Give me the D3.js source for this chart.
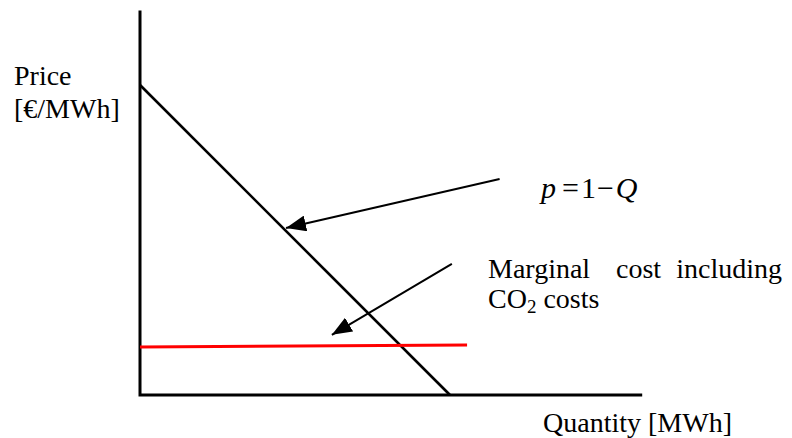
<!DOCTYPE html>
<html>
<head>
<meta charset="utf-8">
<script src="https://cdn.jsdelivr.net/npm/d3@7"></script>
<style>
  body { margin: 0; background: #fff; }
</style>
</head>
<body>
<script>
(function () {
  'use strict';

  // demand curve p = 1 - Q (quantity, price)
  const demand = [[0, 1], [1, 0]];
  // marginal cost incl. CO2 (almost flat, slightly rising)
  const marginalCost = [[0, 0.155], [1.055, 0.161]];
  // annotation arrows: [from, to]
  const arrowDemand = [[1.16, 0.697], [0.471, 0.539]];
  const arrowCost = [[1.006, 0.423], [0.619, 0.194]];
  // axis extents
  const qMax = 1.62;
  const pMax = 1.24;

  const width = 792;
  const height = 438;

  const svg = d3.select('body')
    .append('svg')
    .attr('width', width)
    .attr('height', height)
    .attr('font-family', 'Liberation Serif')
    .attr('font-size', 28);

  const xScale = d3.scaleLinear().domain([0, 1]).range([140, 450]);
  const yScale = d3.scaleLinear().domain([0, 1]).range([395, 85]);

  const line = d3.line()
    .x(d => xScale(d[0]))
    .y(d => yScale(d[1]));

  svg.append('defs').append('marker')
    .attr('id', 'head')
    .attr('markerUnits', 'userSpaceOnUse')
    .attr('viewBox', '0 0 20 16')
    .attr('refX', 20)
    .attr('refY', 8)
    .attr('markerWidth', 20)
    .attr('markerHeight', 16)
    .attr('orient', 'auto')
    .append('path')
    .attr('d', 'M0,0 L20,8 L0,16 Z')
    .attr('fill', '#000');

  // axes (plain lines, no ticks)
  svg.append('path')
    .attr('d', line([[0, pMax], [0, 0], [qMax, 0]]))
    .attr('fill', 'none')
    .attr('stroke', '#000')
    .attr('stroke-width', 3);

  svg.append('path')
    .attr('d', line(demand))
    .attr('fill', 'none')
    .attr('stroke', '#000')
    .attr('stroke-width', 2.6);

  svg.append('path')
    .attr('d', line(marginalCost))
    .attr('fill', 'none')
    .attr('stroke', '#ff0000')
    .attr('stroke-width', 3);

  svg.append('g').selectAll('path')
    .data([arrowDemand, arrowCost])
    .enter()
    .append('path')
    .attr('d', d => line(d))
    .attr('fill', 'none')
    .attr('stroke', '#000')
    .attr('stroke-width', 2)
    .attr('marker-end', 'url(#head)');

  // labels
  svg.append('text').attr('x', 14).attr('y', 85).text('Price');
  svg.append('text').attr('x', 14).attr('y', 118).text('[€/MWh]');
  svg.append('text').attr('x', 543).attr('y', 432).text('Quantity [MWh]');

  const eq = svg.append('text').attr('x', 541).attr('y', 198).attr('font-size', 30);
  eq.append('tspan').attr('font-style', 'italic').text('p');
  eq.append('tspan').attr('dx', 6).text('=');
  eq.append('tspan').attr('dx', 2).text('1');
  eq.append('tspan').attr('dx', 1).text('−');
  eq.append('tspan').attr('dx', 2).attr('font-style', 'italic').text('Q');

  svg.append('text').attr('x', 488).attr('y', 278).text('Marginal');
  svg.append('text').attr('x', 616).attr('y', 278).text('cost');
  svg.append('text').attr('x', 782).attr('y', 278).attr('text-anchor', 'end').text('including');

  const co2 = svg.append('text').attr('x', 488).attr('y', 308);
  co2.append('tspan').text('CO');
  co2.append('tspan').attr('font-size', 19).attr('dy', 5).text('2');
  co2.append('tspan').attr('dy', -5).text(' costs');
})();
</script>
</body>
</html>
